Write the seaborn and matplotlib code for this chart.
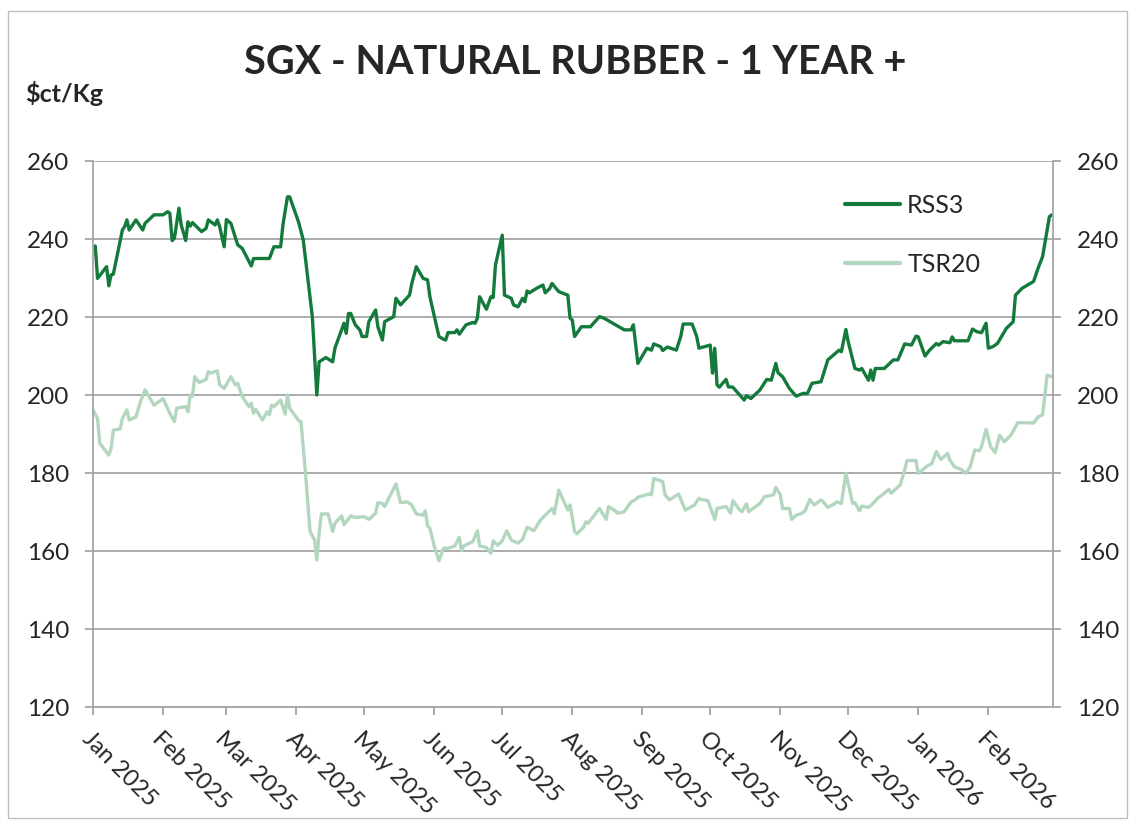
import pandas as pd
import matplotlib
matplotlib.use("Agg")
import matplotlib.pyplot as plt
import matplotlib.dates as mdates
from matplotlib.patches import Rectangle
import seaborn as sns

# days counted from 1 Jan 2025, prices in US cents per kg
start = pd.Timestamp("2025-01-01")

rss3_day = [0, 1, 2, 6, 7, 8, 9, 13, 14, 15, 16, 19, 22, 23, 27, 31, 33, 34, 35, 36,
            38, 39, 41, 42, 43, 44, 48, 50, 51, 54, 55, 56, 58, 59, 61, 64, 66, 70, 71, 78,
            80, 83, 84, 86, 87, 91, 93, 97, 99, 100, 103, 106, 107, 111, 112, 113, 114, 116, 118, 119,
            121, 122, 125, 126, 128, 129, 133, 134, 136, 140, 141, 143, 146, 148, 149, 153, 155, 156, 157, 160,
            161, 162, 165, 168, 169, 170, 171, 174, 176, 177, 178, 181, 182, 185, 186, 188, 190, 191, 192, 193,
            196, 199, 200, 202, 203, 206, 210, 211, 212, 213, 216, 220, 224, 226, 232, 235, 238, 239, 241, 245,
            247, 248, 251, 252, 254, 258, 260, 261, 265, 267, 268, 273, 274, 275, 276, 277, 280, 281, 283, 288,
            289, 291, 295, 298, 300, 302, 303, 305, 308, 311, 314, 316, 318, 322, 325, 330, 331, 333, 334, 337,
            339, 340, 343, 344, 345, 346, 350, 354, 356, 359, 362, 364, 365, 368, 370, 373, 374, 376, 379, 380,
            381, 387, 389, 391, 393, 395, 396, 398, 400, 404, 407, 408, 411, 416, 418, 420, 422, 423, 424]
rss3_val = [238.0, 238.2, 229.9, 232.9, 228.0, 230.8, 231.0, 242.3, 243.2, 244.9, 242.3, 244.9, 242.3, 244.0, 246.2, 246.2, 247.0, 246.6, 239.6, 240.2,
            247.9, 243.6, 239.6, 244.4, 243.3, 244.2, 241.9, 242.7, 244.9, 243.6, 244.9, 243.2, 238.0, 245.0, 244.0, 238.5, 237.6, 233.1, 235.0, 235.0,
            238.0, 238.0, 243.6, 250.8, 250.8, 244.2, 239.7, 220.1, 200.0, 208.5, 209.6, 208.5, 212.0, 218.4, 215.8, 220.9, 220.9, 218.0, 216.7, 215.0,
            215.0, 218.8, 221.8, 217.5, 214.1, 218.8, 220.1, 224.8, 223.1, 225.6, 228.6, 232.9, 229.9, 229.5, 225.2, 215.0, 214.3, 214.1, 216.0, 216.0,
            216.7, 215.6, 218.0, 218.6, 218.4, 219.7, 225.2, 222.0, 225.2, 225.0, 233.3, 241.0, 225.6, 224.8, 223.1, 222.6, 224.8, 223.9, 226.7, 226.2,
            227.3, 228.2, 226.2, 227.3, 228.6, 226.5, 225.6, 219.7, 219.2, 215.0, 217.5, 217.5, 220.1, 219.7, 217.7, 216.7, 216.7, 218.0, 208.1, 212.0,
            211.5, 213.1, 212.4, 211.4, 212.3, 211.5, 215.1, 218.2, 218.2, 215.0, 212.0, 212.8, 205.6, 212.0, 202.6, 202.0, 204.0, 202.1, 202.0, 198.7,
            199.8, 199.1, 201.3, 204.0, 203.8, 208.1, 205.7, 204.7, 201.7, 199.7, 200.4, 200.4, 203.0, 203.4, 209.0, 211.5, 211.1, 216.8, 213.7, 206.8,
            206.4, 206.8, 203.8, 206.4, 203.8, 206.8, 206.8, 209.0, 209.0, 213.1, 212.8, 215.1, 214.9, 210.0, 211.5, 213.2, 212.8, 213.7, 213.4, 214.9,
            213.9, 213.9, 216.9, 216.2, 216.0, 218.4, 212.0, 212.4, 213.2, 217.1, 218.8, 225.6, 227.4, 229.1, 232.5, 235.5, 242.3, 245.7, 246.2]

tsr20_day = [0, 2, 3, 7, 8, 9, 12, 13, 15, 16, 19, 21, 23, 27, 31, 34, 36, 37, 41, 42,
             43, 44, 45, 47, 50, 51, 52, 55, 56, 58, 61, 63, 64, 66, 69, 70, 71, 72, 75, 77,
             78, 79, 80, 83, 85, 86, 87, 91, 92, 94, 96, 98, 99, 100, 101, 104, 106, 107, 110, 111,
             114, 116, 120, 122, 125, 126, 128, 129, 134, 136, 139, 141, 143, 146, 147, 148, 149, 151, 153, 155,
             157, 160, 162, 163, 164, 168, 170, 171, 174, 176, 177, 179, 181, 183, 185, 188, 190, 192, 195, 198,
             203, 204, 206, 210, 211, 213, 214, 217, 218, 219, 224, 227, 228, 231, 232, 234, 235, 238, 240, 241,
             246, 247, 248, 252, 253, 255, 259, 262, 266, 268, 269, 272, 275, 276, 280, 282, 283, 286, 287, 289,
             290, 295, 297, 301, 302, 304, 305, 308, 309, 311, 313, 315, 317, 319, 322, 323, 325, 328, 329, 331,
             333, 336, 337, 339, 340, 343, 345, 347, 350, 352, 353, 357, 359, 360, 364, 365, 369, 371, 373, 375,
             378, 379, 381, 384, 386, 388, 390, 392, 393, 395, 397, 399, 401, 403, 406, 409, 412, 416, 418, 420,
             422, 424]
tsr20_val = [196.2, 194.0, 187.6, 184.6, 186.3, 191.0, 191.3, 194.0, 196.2, 193.6, 194.4, 198.3, 201.3, 197.4, 199.1, 195.3, 193.2, 196.6, 197.0, 195.7,
             200.0, 199.7, 204.7, 203.2, 204.0, 206.0, 205.6, 206.2, 202.6, 201.7, 204.7, 202.6, 203.0, 199.6, 197.0, 197.9, 195.3, 196.3, 193.6, 195.7,
             194.9, 197.4, 197.0, 198.7, 195.1, 200.0, 196.6, 193.4, 193.2, 179.9, 165.0, 162.8, 157.7, 164.5, 169.5, 169.5, 165.0, 167.1, 169.0, 166.7,
             169.0, 168.6, 168.8, 168.1, 169.7, 172.4, 172.2, 171.4, 177.2, 172.4, 172.6, 171.8, 169.5, 169.2, 170.3, 166.4, 165.8, 161.1, 157.5, 160.7,
             160.7, 161.3, 163.5, 160.1, 161.3, 162.4, 165.2, 161.3, 160.9, 159.4, 162.6, 161.5, 162.6, 165.2, 162.8, 162.0, 163.0, 166.1, 165.2, 168.0,
             170.9, 169.5, 175.6, 170.5, 171.8, 165.0, 164.4, 166.1, 167.5, 167.1, 170.9, 168.1, 171.4, 170.3, 169.7, 169.9, 170.1, 172.6, 173.2, 173.8,
             174.6, 174.4, 178.6, 177.8, 174.4, 173.1, 174.6, 170.5, 171.8, 173.5, 173.2, 172.9, 168.1, 170.9, 171.4, 169.7, 172.9, 170.5, 170.1, 172.1,
             170.1, 172.2, 173.9, 174.4, 176.3, 174.4, 170.9, 170.9, 168.1, 169.2, 169.5, 170.3, 173.2, 171.8, 173.1, 172.6, 171.2, 172.1, 172.6, 172.2,
             179.9, 172.2, 172.4, 170.3, 171.5, 171.2, 172.2, 173.5, 174.8, 175.8, 174.8, 176.9, 180.8, 183.2, 183.2, 179.9, 181.8, 182.4, 185.5, 183.5,
             185.0, 183.3, 181.6, 180.9, 179.9, 181.6, 185.9, 185.7, 186.8, 191.2, 186.8, 185.2, 189.7, 188.0, 189.7, 192.9, 192.9, 192.8, 194.4, 194.9,
             205.1, 204.7]

grades = ["RSS3", "TSR20"]
colors = ["#137A3B", "#B3D6BF"]
y_ticks = [120, 140, 160, 180, 200, 220, 240, 260]
month_ticks = pd.date_range("2025-01-01", "2026-02-01", freq="MS")

rss = pd.DataFrame({"date": start + pd.to_timedelta(rss3_day, unit="D"), "price": rss3_val, "grade": grades[0]})
tsr = pd.DataFrame({"date": start + pd.to_timedelta(tsr20_day, unit="D"), "price": tsr20_val, "grade": grades[1]})
prices = pd.concat([rss, tsr], ignore_index=True)

sns.set_style("white")
plt.rcParams["font.family"] = ["Lato", "DejaVu Sans"]

grey = "#A6A6A6"
fig = plt.figure(figsize=(11.34, 8.27), dpi=100)
ax = fig.add_axes([93 / 1134, 1 - 707 / 827, (1053 - 93) / 1134, (707 - 161) / 827])

sns.lineplot(data=prices, x="date", y="price", hue="grade", hue_order=grades,
             palette=colors, linewidth=2.4, estimator=None, ax=ax)

ax.set_ylim(120, 260)
ax.set_yticks(y_ticks)
ax.set_xlim(start, start + pd.Timedelta(days=424.6))
ax.set_xticks(month_ticks)
ax.xaxis.set_major_formatter(mdates.DateFormatter("%b %Y"))
ax.set_xlabel("")
ax.set_ylabel("")

ax.grid(axis="y", color=grey, linewidth=1.3)
ax.grid(axis="x", visible=False)
ax.set_axisbelow(True)
ax.spines["top"].set_visible(False)
for side in ["left", "right", "bottom"]:
    ax.spines[side].set_color(grey)
    ax.spines[side].set_linewidth(1.3)

ax.tick_params(axis="y", left=True, right=True, labelleft=True, labelright=True,
               length=6, width=1.3, color=grey, labelsize=17.5, pad=11)
ax.tick_params(axis="x", bottom=True, length=6, width=1.3, color=grey, labelsize=17, pad=9)
for lbl in ax.get_xticklabels():
    lbl.set_rotation(-45)
    lbl.set_ha("left")
    lbl.set_va("top")
    lbl.set_rotation_mode("anchor")

handles, labels = ax.get_legend_handles_labels()
for h in handles:
    h.set_linewidth(3)
ax.legend(handles, labels, frameon=False, loc="upper left", bbox_to_anchor=(0.783, 0.94),
          fontsize=18, handlelength=2.2, handletextpad=0.3, labelspacing=1.45,
          borderpad=0, borderaxespad=0)

fig.text(0.507, 0.925, "SGX - NATURAL RUBBER - 1 YEAR +", ha="center", va="center",
         fontsize=28.5, fontweight="bold")
fig.text(25 / 1134, 1 - 102 / 827, "$ct/Kg", ha="left", va="baseline",
         fontsize=18, fontweight="bold")

fig.add_artist(Rectangle((8 / 1134, 1 - 818 / 827), (1127 - 8) / 1134, (818 - 11) / 827,
                         transform=fig.transFigure, fill=False, edgecolor="#BFBFBF", linewidth=1))

fig.savefig("out.png", dpi=100)
